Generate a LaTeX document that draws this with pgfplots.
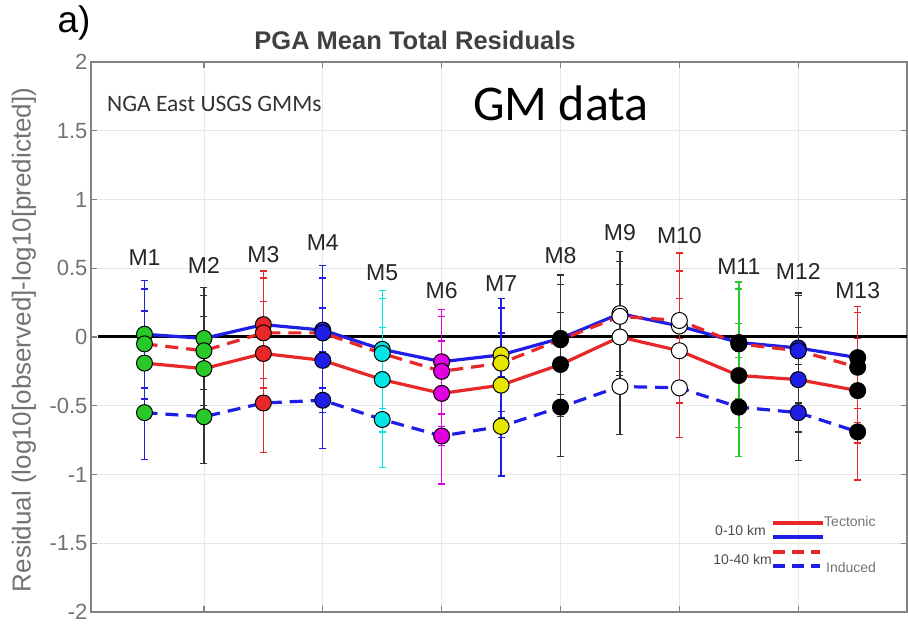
\documentclass[border=0pt]{standalone}
\usepackage{fontspec}
\setmainfont{Liberation Sans}
\newfontfamily\calibri{Carlito}
\usepackage{pgfplots}
\pgfplotsset{compat=1.18}
\usepackage{pgfplotstable}

\definecolor{lr}{RGB}{232,40,40}
\definecolor{lb}{RGB}{30,30,230}
\definecolor{mg}{RGB}{40,200,40}
\definecolor{mc}{RGB}{0,230,230}
\definecolor{mm}{RGB}{225,0,225}
\definecolor{my}{RGB}{230,230,0}
\definecolor{dk}{RGB}{50,50,50}
\definecolor{axgray}{RGB}{130,130,130}
\definecolor{gridgray}{RGB}{232,232,232}
\definecolor{txtgray}{RGB}{115,115,115}

% s: 1 = 0-10 km induced (blue solid), 2 = 10-40 km tectonic (red dashed),
%    3 = 0-10 km tectonic (red solid), 4 = 10-40 km induced (blue dashed)
\pgfplotstableread{
x y e s
1 0.02 0.39 1
2 -0.01 0.37 1
3 0.09 0.39 1
4 0.05 0.47 1
5 -0.09 0.43 1
6 -0.18 0.38 1
7 -0.13 0.41 1
8 -0.01 0.46 1
9 0.17 0.45 1
10 0.08 0.40 1
11 -0.04 0.44 1
12 -0.08 0.40 1
13 -0.15 0.37 1
1 -0.05 0.40 2
2 -0.10 0.40 2
3 0.03 0.40 2
4 0.03 0.40 2
5 -0.12 0.40 2
6 -0.25 0.40 2
7 -0.19 0.40 2
8 -0.02 0.40 2
9 0.15 0.40 2
10 0.12 0.49 2
11 -0.05 0.40 2
12 -0.10 0.40 2
13 -0.22 0.40 2
1 -0.19 0.38 3
2 -0.23 0.38 3
3 -0.12 0.38 3
4 -0.17 0.38 3
5 -0.31 0.38 3
6 -0.41 0.38 3
7 -0.35 0.38 3
8 -0.20 0.38 3
9 0.00 0.38 3
10 -0.10 0.38 3
11 -0.28 0.38 3
12 -0.31 0.38 3
13 -0.39 0.38 3
1 -0.55 0.34 4
2 -0.58 0.34 4
3 -0.48 0.36 4
4 -0.46 0.35 4
5 -0.60 0.35 4
6 -0.72 0.35 4
7 -0.65 0.36 4
8 -0.51 0.36 4
9 -0.36 0.35 4
10 -0.37 0.36 4
11 -0.51 0.36 4
12 -0.55 0.35 4
13 -0.69 0.35 4
}\data

\newcommand{\loc}[4]{%
  \addplot[only marks, mark=*, mark size=8pt,
    mark options={fill=#3, draw=black, line width=1pt},
    restrict x to domain=#1:#2,
    error bars/.cd, y dir=both, y explicit,
    error bar style={color=#4, line width=1.4pt},
    error mark=-,
    error mark options={color=#4, line width=1.4pt, mark size=3.5pt, rotate=90}]
    table[x=x,y=y,y error=e] {\data};
}

\begin{document}
\begin{tikzpicture}
\begin{axis}[
  at={(91pt,12pt)}, anchor=south west,
  scale only axis, width=816pt, height=550pt,
  xmin=0.1, xmax=13.83, ymin=-2, ymax=2,
  xtick={2,4,6,8,10,12}, xticklabels={},
  ytick={-2,-1.5,-1,-0.5,0,0.5,1,1.5,2},
  yticklabels={-2,-1.5,-1,-0.5,0,0.5,1,1.5,2},
  grid=major, major grid style={gridgray, line width=0.8pt},
  axis line style={axgray, line width=1.5pt},
  tick style={axgray, line width=1.2pt}, major tick length=6pt,
  yticklabel style={font=\fontsize{22}{26}\selectfont, text=txtgray},
  clip=false,
]
\addplot[black, line width=3pt] coordinates {(0.22,0) (13.83,0)};
\addplot[lr, line width=3.2pt, restrict expr to domain={\thisrow{s}}{3:3}] table[x=x,y=y] {\data};
\addplot[lb, line width=3.2pt, restrict expr to domain={\thisrow{s}}{1:1}] table[x=x,y=y] {\data};
\addplot[lr, line width=3.2pt, dash pattern=on 13pt off 8pt, restrict expr to domain={\thisrow{s}}{2:2}] table[x=x,y=y] {\data};
\addplot[lb, line width=3.2pt, dash pattern=on 13pt off 8pt, restrict expr to domain={\thisrow{s}}{4:4}] table[x=x,y=y] {\data};

\loc{0.5}{1.5}{mg}{lb}
\loc{1.5}{2.5}{mg}{dk}
\loc{2.5}{3.5}{lr}{lr}
\loc{3.5}{4.5}{lb}{lb}
\loc{4.5}{5.5}{mc}{mc}
\loc{5.5}{6.5}{mm}{mm}
\loc{6.5}{7.5}{my}{lb}
\loc{7.5}{8.5}{black}{dk}
\loc{8.5}{9.5}{white}{dk}
\loc{9.5}{10.5}{white}{lr}
\loc{10.5}{11.5}{black}{mg}
\loc{11.5}{12.5}{lb}{dk}
\loc{12.5}{13.5}{black}{lr}

\begin{scope}[every node/.style={font=\fontsize{23}{27}\selectfont, text=black!85}]
\node at (axis cs:1,0.575) {M1};
\node at (axis cs:2,0.52) {M2};
\node at (axis cs:3,0.60) {M3};
\node at (axis cs:4,0.69) {M4};
\node at (axis cs:5,0.47) {M5};
\node at (axis cs:6,0.34) {M6};
\node at (axis cs:7,0.39) {M7};
\node at (axis cs:8,0.59) {M8};
\node at (axis cs:9,0.76) {M9};
\node at (axis cs:10,0.74) {M10};
\node at (axis cs:11,0.51) {M11};
\node at (axis cs:12,0.48) {M12};
\node at (axis cs:13,0.34) {M13};
\end{scope}
\end{axis}

% titles and annotations
\node[font=\fontsize{37}{42}\selectfont] at (74pt,601pt) {a)};
\node[font=\bfseries\fontsize{25.5}{30}\selectfont, text=black!75] at (415pt,584pt) {PGA Mean Total Residuals};
\node[font=\calibri\fontsize{23.5}{28}\selectfont, text=black!80, anchor=west, inner sep=0pt] at (107pt,520pt) {NGA East USGS GMMs};
\node[font=\calibri\fontsize{50}{58}\selectfont, text=black] at (561pt,521pt) {GM data};
\node[font=\fontsize{26}{30}\selectfont, text=txtgray, rotate=90] at (24pt,284pt) {Residual (log10[observed]-log10[predicted])};

% legend
\draw[lr, line width=3.5pt] (773pt,101pt) -- (823pt,101pt);
\draw[lb, line width=3.5pt] (773pt,87pt) -- (823pt,87pt);
\draw[lr, line width=3.5pt, dash pattern=on 12pt off 7pt] (773pt,72pt) -- (820pt,72pt);
\draw[lb, line width=3.5pt, dash pattern=on 12pt off 7pt] (773pt,58pt) -- (820pt,58pt);
\begin{scope}[every node/.style={font=\fontsize{14}{16}\selectfont, inner sep=0pt}]
\node[anchor=east, text=black!70] at (766pt,94pt) {0-10 km};
\node[anchor=east, text=black!70] at (772pt,65pt) {10-40 km};
\node[anchor=west, text=txtgray] at (824pt,103pt) {Tectonic};
\node[anchor=west, text=txtgray] at (826pt,57pt) {Induced};
\end{scope}

\pgfresetboundingbox
\path[use as bounding box] (0pt,0pt) rectangle (908pt,624pt);
\end{tikzpicture}
\end{document}
